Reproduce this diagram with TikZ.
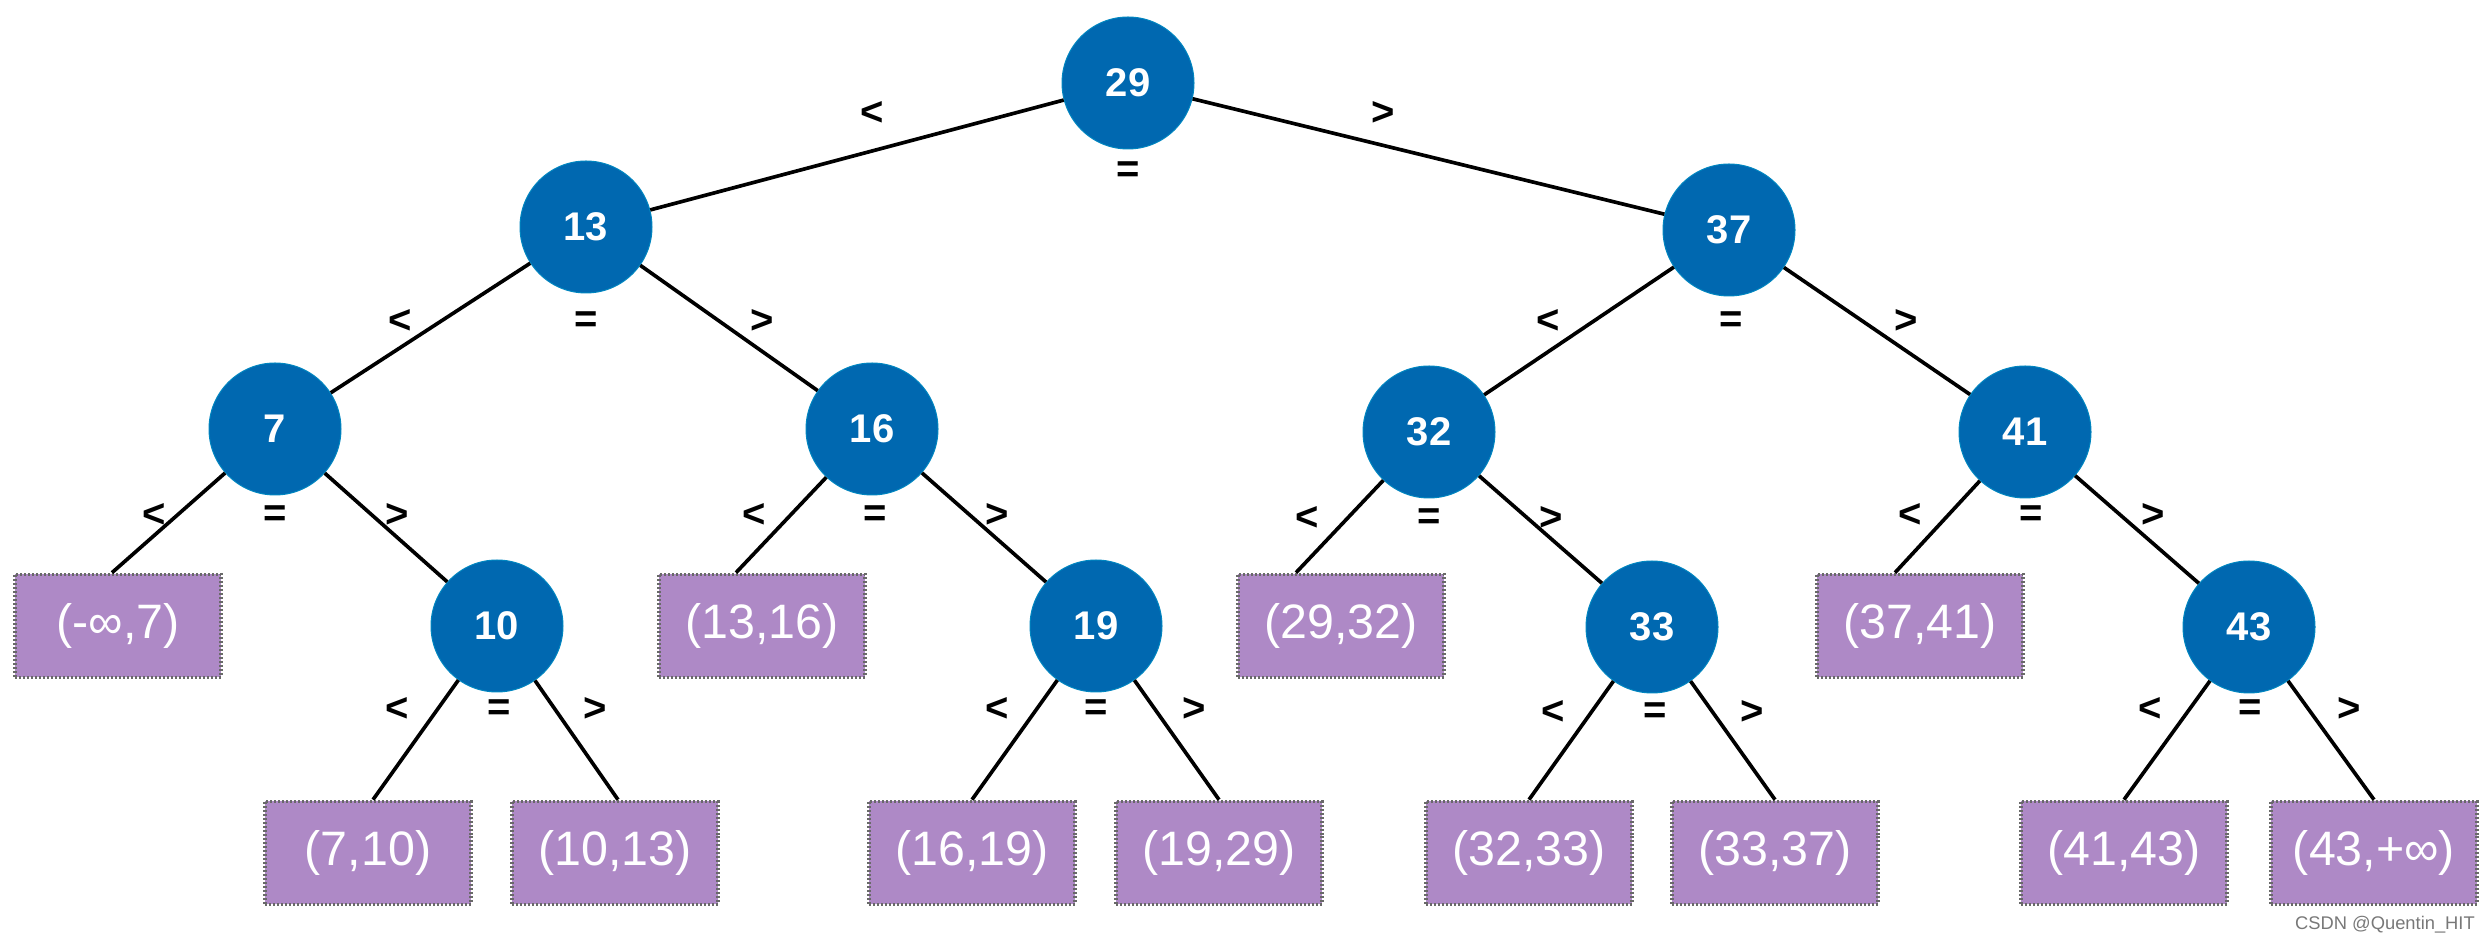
\documentclass[tikz,border=0pt]{standalone}
\usepackage{fontspec}
\setmainfont{Liberation Sans}
\definecolor{nodeblue}{RGB}{0,104,176}
\definecolor{boxpurple}{RGB}{174,137,198}
\definecolor{boxborder}{RGB}{105,105,105}
\definecolor{wm}{RGB}{120,120,120}
\begin{document}
\begin{tikzpicture}[x=0.3pt,y=-0.3pt,
  keynode/.style={circle,fill=nodeblue,draw=nodeblue!80!cyan,line width=0.3pt,minimum size=39.6pt,inner sep=0pt,
    text=white,font=\fontsize{12}{14}\selectfont\bfseries},
  rangebox/.style={rectangle,fill=boxpurple,draw=boxborder,line width=1.1pt,dash pattern=on 0.6pt off 0.6pt,
    minimum width=61.8pt,minimum height=30.9pt,inner sep=0pt,text=white,font=\fontsize{14.5}{16}\selectfont},
  link/.style={line width=1.1pt,black},
  cmp/.style={font=\fontsize{12}{14}\selectfont\bfseries,inner sep=0pt}
]
\useasboundingbox (0,0) rectangle (2490,946);
% key nodes
\node[keynode] (n29) at (1128,83) {29};
\node[keynode] (n13) at (586,227) {13};
\node[keynode] (n37) at (1729,230) {37};
\node[keynode] (n7) at (275,429) {7};
\node[keynode] (n16) at (872,429) {16};
\node[keynode] (n32) at (1429,432) {32};
\node[keynode] (n41) at (2025,432) {41};
\node[keynode] (n10) at (497,626) {10};
\node[keynode] (n19) at (1096,626) {19};
\node[keynode] (n33) at (1652,627) {33};
\node[keynode] (n43) at (2249,627) {43};
% range boxes
\node[rangebox] (r1) at (118,626) {(-∞,7)};
\node[rangebox] (r4) at (762,626) {(13,16)};
\node[rangebox] (r7) at (1341,626) {(29,32)};
\node[rangebox] (r10) at (1920,626) {(37,41)};
\node[rangebox] (r2) at (368,853) {(7,10)};
\node[rangebox] (r3) at (615,853) {(10,13)};
\node[rangebox] (r5) at (972,853) {(16,19)};
\node[rangebox] (r6) at (1219,853) {(19,29)};
\node[rangebox] (r8) at (1529,853) {(32,33)};
\node[rangebox] (r9) at (1775,853) {(33,37)};
\node[rangebox] (r11) at (2124,853) {(41,43)};
\node[rangebox] (r12) at (2374,853) {(43,+∞)};
% edges
\draw[link] (n29) -- (n13);
\draw[link] (n29) -- (n37);
\draw[link] (n13) -- (n7);
\draw[link] (n13) -- (n16);
\draw[link] (n37) -- (n32);
\draw[link] (n37) -- (n41);
\draw[link] (n7) -- ([xshift=-1.8pt]r1.north);
\draw[link] (n7) -- (n10);
\draw[link] (n16) -- ([xshift=-7.8pt]r4.north);
\draw[link] (n16) -- (n19);
\draw[link] (n32) -- ([xshift=-13.5pt]r7.north);
\draw[link] (n32) -- (n33);
\draw[link] (n41) -- ([xshift=-7.5pt]r10.north);
\draw[link] (n41) -- (n43);
\draw[link] (n10) -- ([xshift=1.5pt]r2.north);
\draw[link] (n10) -- ([xshift=0.9pt]r3.north);
\draw[link] (n19) -- (r5.north);
\draw[link] (n19) -- (r6.north);
\draw[link] (n33) -- (r8.north);
\draw[link] (n33) -- (r9.north);
\draw[link] (n43) -- (r11.north);
\draw[link] (n43) -- (r12.north);
% comparison labels
\node[cmp] (l29a) at (872,114) {<};
\node[cmp] (l29b) at (1128,172) {=};
\node[cmp] (l29c) at (1383,114) {>};
\node[cmp] (l13a) at (400,322) {<};
\node[cmp] (l13b) at (586,322) {=};
\node[cmp] (l13c) at (762,322) {>};
\node[cmp] (l37a) at (1548,322) {<};
\node[cmp] (l37b) at (1731,322) {=};
\node[cmp] (l37c) at (1906,322) {>};
\node[cmp] (l7a) at (154,516) {<};
\node[cmp] (l7b) at (275,516) {=};
\node[cmp] (l7c) at (397,516) {>};
\node[cmp] (l16a) at (754,516) {<};
\node[cmp] (l16b) at (875,516) {=};
\node[cmp] (l16c) at (997,516) {>};
\node[cmp] (l32a) at (1307,519) {<};
\node[cmp] (l32b) at (1429,519) {=};
\node[cmp] (l32c) at (1551,519) {>};
\node[cmp] (l41a) at (1910,516) {<};
\node[cmp] (l41b) at (2031,516) {=};
\node[cmp] (l41c) at (2153,516) {>};
\node[cmp] (l10a) at (397,710) {<};
\node[cmp] (l10b) at (499,710) {=};
\node[cmp] (l10c) at (595,710) {>};
\node[cmp] (l19a) at (997,710) {<};
\node[cmp] (l19b) at (1096,710) {=};
\node[cmp] (l19c) at (1194,710) {>};
\node[cmp] (l33a) at (1553,713) {<};
\node[cmp] (l33b) at (1655,713) {=};
\node[cmp] (l33c) at (1752,713) {>};
\node[cmp] (l43a) at (2150,710) {<};
\node[cmp] (l43b) at (2250,710) {=};
\node[cmp] (l43c) at (2349,710) {>};
% watermark
\node[text=wm,font=\fontsize{5.5}{7}\selectfont,inner sep=0pt] (wm) at (2385,925) {CSDN @Quentin\_HIT};
\end{tikzpicture}
\end{document}
